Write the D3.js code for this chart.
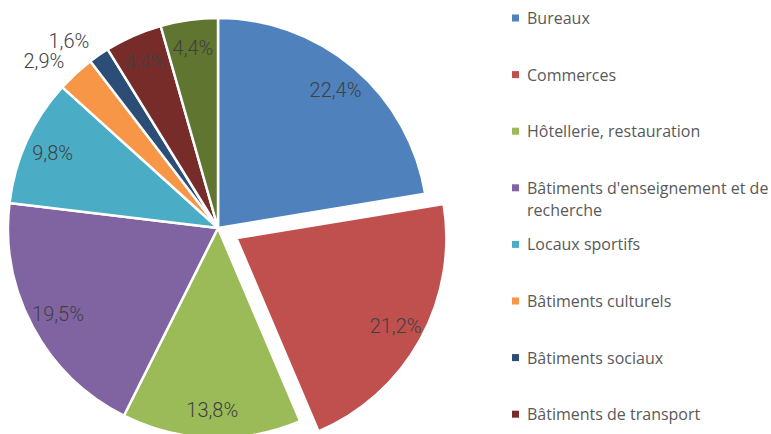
<!DOCTYPE html>
<html>
<head>
<meta charset="utf-8">
<script src="https://cdn.jsdelivr.net/npm/d3@7"></script>
<style>
  body { margin: 0; background: #fff; }
  svg { display: block; }
</style>
</head>
<body>
<div id="chart"></div>
<script>
// data
const categories = [
    'Bureaux',
    'Commerces',
    'Hôtellerie, restauration',
    "Bâtiments d'enseignement et de recherche",
    'Locaux sportifs',
    'Bâtiments culturels',
    'Bâtiments sociaux',
    'Bâtiments de transport',
    'Autres'
];
const values = [22.4, 21.2, 13.8, 19.5, 9.8, 2.9, 1.6, 4.4, 4.4];
const exploded = ['Commerces'];
const colours = [
    '#4F81BD', '#C0504D', '#9BBB59', '#8064A2', '#4BACC6',
    '#F79646', '#2C4D75', '#772C2A', '#5F7530'
];

const width = 771, height = 434;
const cx = 218, cy = 228, radius = 210;
const explode = 21;

const svg = d3.select('#chart').append('svg')
    .attr('width', width)
    .attr('height', height);

const data = categories.map((c, i) => ({name: c, value: values[i], colour: colours[i]}));

const pie = d3.pie().sort(null).value(d => d.value);
const arcs = pie(data);
const arc = d3.arc().innerRadius(0).outerRadius(radius);
const insideLabel = d3.arc().innerRadius(radius * 0.865).outerRadius(radius * 0.865);
const outsideLabel = d3.arc().innerRadius(radius * 1.08).outerRadius(radius * 1.08);

const offset = d => {
    if (!exploded.includes(d.data.name)) return [0, 0];
    const a = (d.startAngle + d.endAngle) / 2;
    return [Math.sin(a) * explode, -Math.cos(a) * explode];
};

const chart = svg.append('g')
    .attr('transform', `translate(${cx}, ${cy})`);

const slices = chart.selectAll('g.slice')
    .data(arcs)
    .enter()
    .append('g')
    .attr('class', 'slice')
    .attr('transform', d => `translate(${offset(d)})`);

slices.append('path')
    .attr('d', arc)
    .attr('fill', d => d.data.colour)
    .attr('stroke', '#fff')
    .attr('stroke-width', 2.5)
    .attr('stroke-linejoin', 'round');

// percentage labels, small slices go outside
slices.append('text')
    .attr('transform', d => {
        const p = d.data.value < 3 ? outsideLabel.centroid(d) : insideLabel.centroid(d);
        return `translate(${p})`;
    })
    .attr('text-anchor', d => d.data.value < 3 ? 'end' : 'middle')
    .attr('dominant-baseline', 'central')
    .style('font-family', 'Roboto, sans-serif')
    .style('font-weight', 300)
    .style('font-size', '20px')
    .attr('fill', '#404040')
    .text(d => d3.format('.1f')(d.data.value).replace('.', ',') + '%');

// legend - only the entries that fit in the frame (like the original)
const legendTop = 18;
const rowStep = 56.6;
const maxTextWidth = 246;
const legendData = data.filter((d, i) => legendTop + i * rowStep + 10 < height);

const legend = svg.append('g')
    .attr('transform', `translate(512, ${legendTop})`);

const items = legend.selectAll('g.item')
    .data(legendData)
    .enter()
    .append('g')
    .attr('class', 'item')
    .attr('transform', (d, i) => `translate(0, ${i * rowStep})`);

items.append('rect')
    .attr('x', 0)
    .attr('y', -3.5)
    .attr('width', 7)
    .attr('height', 7)
    .attr('fill', d => d.colour);

items.append('text')
    .attr('x', 15)
    .attr('y', 0)
    .attr('dominant-baseline', 'central')
    .style('font-family', '"Open Sans", sans-serif')
    .style('font-size', '16px')
    .attr('fill', '#595959')
    .each(function(d) {
        const text = d3.select(this);
        const words = d.name.split(' ');
        let line = [];
        let tspan = text.append('tspan').attr('x', 15).attr('dy', 0);
        words.forEach(w => {
            line.push(w);
            tspan.text(line.join(' '));
            if (tspan.node().getComputedTextLength() > maxTextWidth && line.length > 1) {
                line.pop();
                tspan.text(line.join(' '));
                line = [w];
                tspan = text.append('tspan').attr('x', 15).attr('dy', 22).text(w);
            }
        });
    });
</script>
</body>
</html>
